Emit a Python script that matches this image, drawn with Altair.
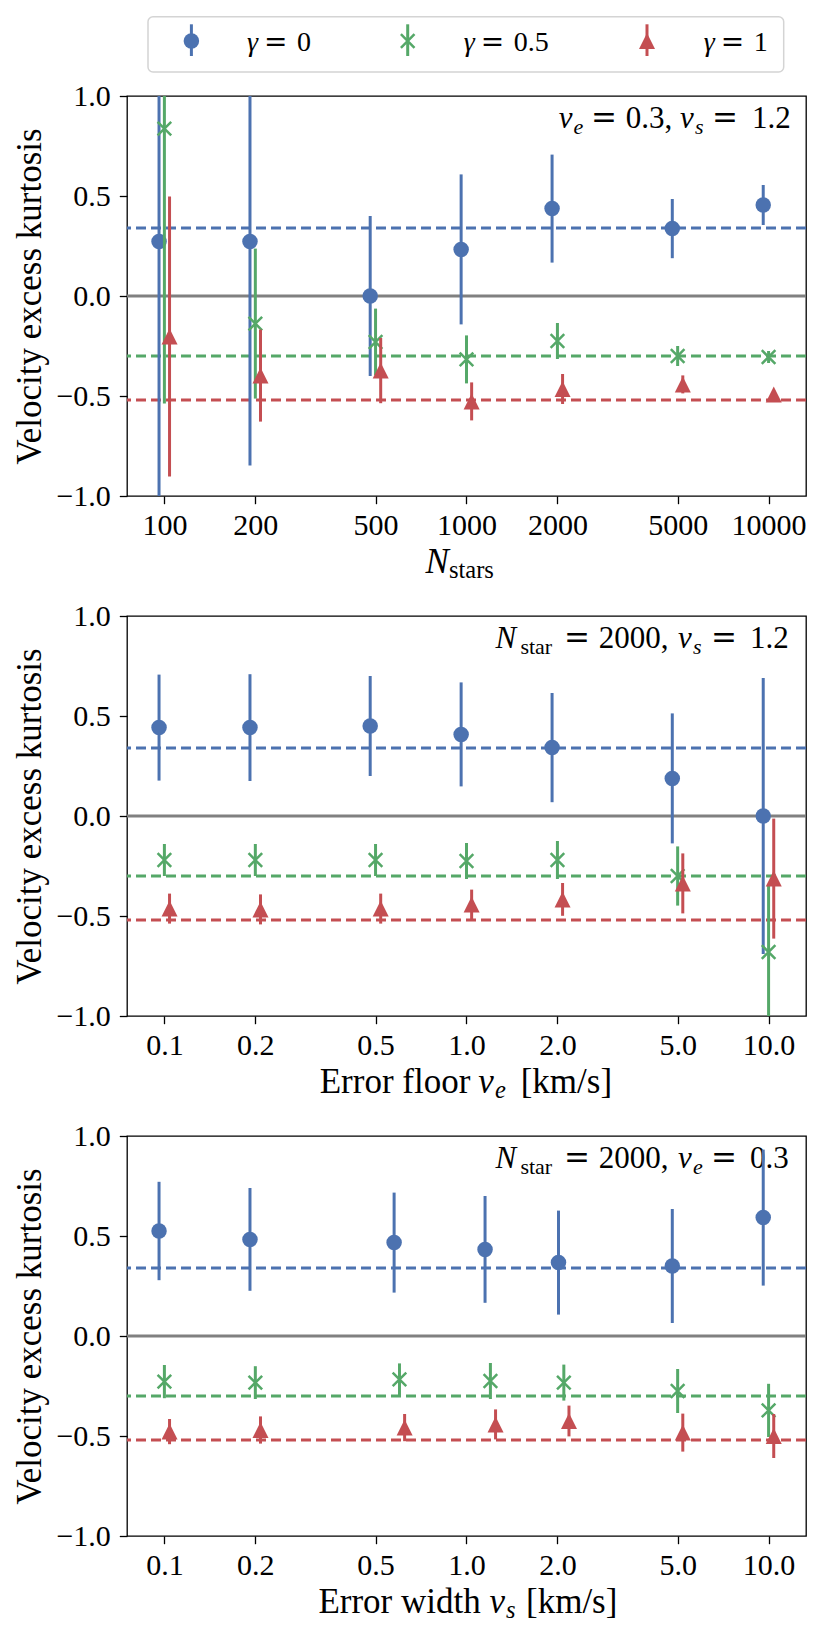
import altair as alt
import pandas as pd

FONT = "Liberation Serif"
EQFONT = "DejaVu Serif"
COLORS = ["#4C72B0", "#55A868", "#C44E52"]

# ---------------- data ----------------
gamma_labels = ["0", "0.5", "1"]
ref_kurtosis = [0.34, -0.30, -0.52]

n_stars = [100, 200, 500, 1000, 2000, 5000, 10000]
floor_ve = [0.1, 0.2, 0.5, 1.0, 2.0, 5.0, 10.0]
width_vs = [0.1, 0.2, 0.6, 1.2, 2.1, 5.0, 10.0]

n_ticks = [100, 200, 500, 1000, 2000, 5000, 10000]
v_ticks = [0.1, 0.2, 0.5, 1.0, 2.0, 5.0, 10.0]
y_ticks = [-1.0, -0.5, 0.0, 0.5, 1.0]

# panel 1: vs N_stars
p1_k_g0 = [0.272, 0.272, 0.000, 0.233, 0.437, 0.337, 0.455]
p1_e_g0 = [1.40, 1.12, 0.40, 0.375, 0.27, 0.148, 0.10]
p1_k_g05 = [0.837, -0.138, -0.230, -0.317, -0.225, -0.300, -0.305]
p1_e_g05 = [1.375, 0.375, 0.167, 0.12, 0.09, 0.05, 0.03]
p1_k_g1 = [-0.203, -0.398, -0.373, -0.527, -0.465, -0.442, -0.492]
p1_e_g1 = [0.70, 0.23, 0.163, 0.095, 0.075, 0.045, 0.02]

# panel 2: vs error floor
p2_k_g0 = [0.442, 0.442, 0.450, 0.408, 0.342, 0.188, 0.000]
p2_e_g0 = [0.265, 0.267, 0.25, 0.26, 0.273, 0.325, 0.69]
p2_k_g05 = [-0.220, -0.220, -0.220, -0.225, -0.220, -0.300, -0.680]
p2_e_g05 = [0.08, 0.08, 0.08, 0.09, 0.095, 0.148, 0.34]
p2_k_g1 = [-0.463, -0.467, -0.463, -0.443, -0.417, -0.337, -0.313]
p2_e_g1 = [0.075, 0.075, 0.075, 0.075, 0.082, 0.15, 0.30]

# panel 3: vs error width
p3_k_g0 = [0.525, 0.483, 0.467, 0.433, 0.367, 0.350, 0.592]
p3_e_g0 = [0.246, 0.257, 0.25, 0.267, 0.26, 0.285, 0.34]
p3_k_g05 = [-0.228, -0.233, -0.217, -0.225, -0.233, -0.275, -0.372]
p3_e_g05 = [0.083, 0.082, 0.08, 0.09, 0.09, 0.11, 0.133]
p3_k_g1 = [-0.478, -0.470, -0.458, -0.442, -0.425, -0.483, -0.500]
p3_e_g1 = [0.063, 0.068, 0.068, 0.075, 0.077, 0.095, 0.11]

# ---------------- styling ----------------
X_SHIFT = [0.96, 1.0, 1.04]          # horizontal dodge of the three series
SHAPES = ["circle", "M-1,-1L1,1M1,-1L-1,1", "M0,-1L-1,1L1,1Z"]
FILLED = [True, False, True]
SIZES = [240, 185, 256]
W, H = 679, 400
MAIN, SUB = 31, 22
TITLE, TSUB = 35, 24.5


def table(xs, ks, es):
    rows = []
    for i in range(3):
        for x, k, e in zip(xs, ks[i], es[i]):
            rows.append(dict(series=i, x=x * X_SHIFT[i], k=k, lo=k - e, hi=k + e))
    return pd.DataFrame(rows)


def one(d):
    return pd.DataFrame([d])


def text_layer(s, x, y, size, italic=False, align="left", font=FONT):
    return alt.Chart(one({"t": s})).mark_text(
        font=font, fontSize=size, fontStyle="italic" if italic else "normal",
        align=align, baseline="alphabetic", color="black"
    ).encode(text="t:N", x=alt.value(x), y=alt.value(y))


def eq_layer(x, y, size):
    return text_layer("=", x, y, size, font=EQFONT)


def legend_layers():
    L = [alt.Chart(one({"a": 1})).mark_rect(
        fill="white", stroke="#d4d4d4", strokeWidth=1.5, cornerRadius=5
    ).encode(x=alt.value(21), x2=alt.value(656.7), y=alt.value(-79.3), y2=alt.value(-24))]
    mark_x = [64.4, 280.7, 520.0]
    text_x = [120.0, 336.7, 576.7]
    for i, lab in enumerate(gamma_labels):
        d = one({"t": lab})
        L.append(alt.Chart(d).mark_rule(color=COLORS[i], strokeWidth=3).encode(
            x=alt.value(mark_x[i]), y=alt.value(-71.7), y2=alt.value(-40)))
        L.append(alt.Chart(d).mark_point(
            shape=SHAPES[i], filled=FILLED[i], size=SIZES[i], color=COLORS[i],
            opacity=1, strokeWidth=2.5).encode(x=alt.value(mark_x[i]), y=alt.value(-55)))
        L.append(text_layer("γ", text_x[i], -45, 28, italic=True))
        L.append(eq_layer(text_x[i] + 17, -45, 28))
        L.append(text_layer(lab, text_x[i] + 50, -45, 28))
    return L


def panel(df, xdomain, xticks, xfmt, annot, xtitle, with_legend=False):
    xsc = alt.Scale(type="log", domain=xdomain, nice=False)
    ysc = alt.Scale(domain=[-1, 1], nice=False, zero=False)
    xax = alt.Axis(values=xticks, format=xfmt, title=None, labelOverlap=False,
                   labelFlush=False, labelBaseline="alphabetic", labelPadding=31,
                   labelFont=FONT, labelFontSize=30)
    yax = alt.Axis(values=y_ticks, format=".1f", title="Velocity excess kurtosis",
                   titleX=-86.6, titleBaseline="alphabetic", labelAlign="right",
                   labelBaseline="middle", labelPadding=9, labelOverlap=False,
                   labelFont=FONT, labelFontSize=30, titleFont=FONT, titleFontSize=35)

    def X(f):
        return alt.X(f, type="quantitative", scale=xsc, axis=xax)

    def Y(f):
        return alt.Y(f, type="quantitative", scale=ysc, axis=yax)

    layers = []
    layers.append(alt.Chart(one({"k": 0.0})).mark_rule(
        color="#808080", strokeWidth=2.8).encode(y=Y("k")))
    ref_df = pd.DataFrame({"k": ref_kurtosis, "c": COLORS})
    layers.append(alt.Chart(ref_df).mark_rule(strokeWidth=3, strokeDash=[10, 5]).encode(
        y=Y("k"), color=alt.Color("c:N", scale=None)))
    for seg in annot:
        if seg[0] == "=":
            layers.append(eq_layer(seg[1], seg[2], seg[3]))
        else:
            layers.append(text_layer(*seg))
    for i in range(3):
        sd = df[df.series == i]
        layers.append(alt.Chart(sd).mark_rule(color=COLORS[i], strokeWidth=3, clip=True).encode(
            x=X("x"), y=Y("lo"), y2="hi"))
        layers.append(alt.Chart(sd).mark_point(
            shape=SHAPES[i], filled=FILLED[i], size=SIZES[i], color=COLORS[i],
            opacity=1, strokeWidth=2.5, clip=True).encode(x=X("x"), y=Y("k")))
    for seg in xtitle:
        layers.append(text_layer(*seg))
    if with_legend:
        layers.extend(legend_layers())
    return alt.layer(*layers).properties(width=W, height=H)


AY, SY = 32, 38          # annotation baselines (main, subscript)
TY, TSY = H + 77, H + 82  # x-title baselines (main, subscript)

annot1 = [("v", 431.7, AY, MAIN, True), ("e", 446.5, SY, SUB, True),
          ("=", 464.0, AY, MAIN), ("0.3,", 498.7, AY, MAIN),
          ("v", 553.0, AY, MAIN, True), ("s", 568.0, SY, SUB, True),
          ("=", 585.0, AY, MAIN), ("1.2", 663.7, AY, MAIN, False, "right")]
annot2 = [("N", 368.4, AY, MAIN, True), ("star", 393.4, SY, SUB),
          ("=", 437.0, AY, MAIN), ("2000,", 471.7, AY, MAIN),
          ("v", 551.0, AY, MAIN, True), ("s", 566.0, SY, SUB, True),
          ("=", 584.0, AY, MAIN), ("1.2", 661.7, AY, MAIN, False, "right")]
annot3 = [("N", 368.4, AY, MAIN, True), ("star", 393.4, SY, SUB),
          ("=", 437.0, AY, MAIN), ("2000,", 471.7, AY, MAIN),
          ("v", 551.0, AY, MAIN, True), ("e", 566.0, SY, SUB, True),
          ("=", 584.0, AY, MAIN), ("0.3", 661.7, AY, MAIN, False, "right")]

title1 = [("N", 298.4, TY, TITLE, True), ("stars", 322.0, TSY, TSUB)]
title2 = [("Error floor", 192.7, TY, TITLE), ("v", 351.3, TY, TITLE, True),
          ("e", 368.0, TSY, TSUB, True), ("[km/s]", 393.7, TY, TITLE)]
title3 = [("Error width", 191.4, TY, TITLE), ("v", 362.4, TY, TITLE, True),
          ("s", 379.0, TSY, TSUB, True), ("[km/s]", 399.0, TY, TITLE)]

df1 = table(n_stars, [p1_k_g0, p1_k_g05, p1_k_g1], [p1_e_g0, p1_e_g05, p1_e_g1])
df2 = table(floor_ve, [p2_k_g0, p2_k_g05, p2_k_g1], [p2_e_g0, p2_e_g05, p2_e_g1])
df3 = table(width_vs, [p3_k_g0, p3_k_g05, p3_k_g1], [p3_e_g0, p3_e_g05, p3_e_g1])

p1 = panel(df1, [75.2, 13300], n_ticks, "d", annot1, title1, with_legend=True)
p2 = panel(df2, [0.0752, 13.3], v_ticks, ".1f", annot2, title2)
p3 = panel(df3, [0.0752, 13.3], v_ticks, ".1f", annot3, title3)

chart = alt.vconcat(p1, p2, p3, spacing=120, bounds="flush").properties(
    padding={"left": 3, "top": 7, "right": 5, "bottom": 5}
).configure_view(
    stroke="black", strokeWidth=1.3
).configure_axis(
    grid=False, domain=False, labelFont=FONT, labelFontSize=30, labelColor="black",
    tickColor="black", tickSize=7.7, tickWidth=1.3, titleFont=FONT,
    titleFontSize=35, titleFontWeight="normal", titleColor="black"
)

chart.save("out.html", embed_options={"renderer": "svg", "actions": False})
